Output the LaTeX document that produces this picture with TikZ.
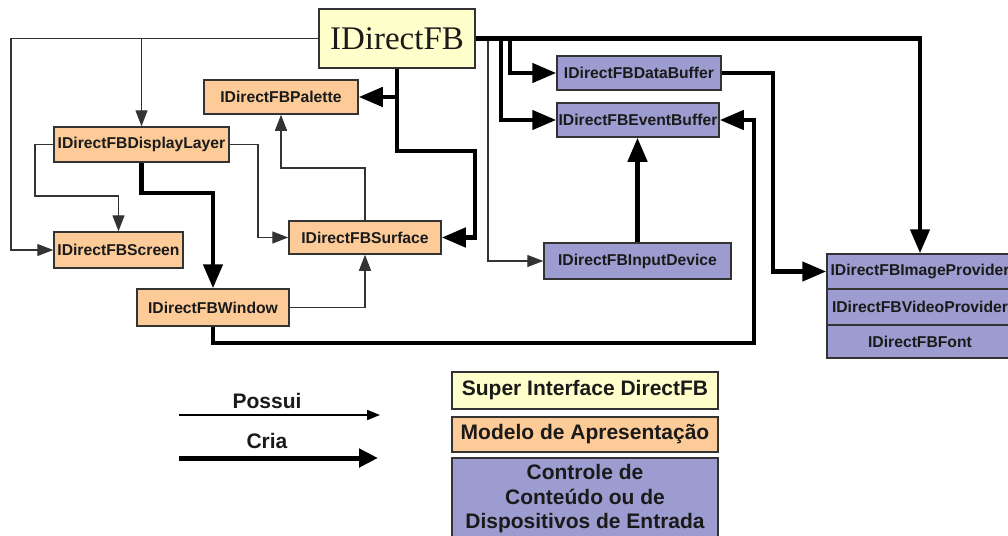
\documentclass[tikz,border=0pt]{standalone}
\usepackage{fontspec}
\setmainfont{Liberation Sans}
\newfontfamily\serifbig{Liberation Serif}
\usetikzlibrary{arrows.meta}
\definecolor{yel}{HTML}{FFFFCC}
\definecolor{ora}{HTML}{FCCB98}
\definecolor{pur}{HTML}{9C9CD0}
\definecolor{edge}{HTML}{333333}
\definecolor{txt}{HTML}{1A1A1A}
\begin{document}
\begin{tikzpicture}[x=1pt,y=-1pt,
  box/.style={draw=edge, line width=1.5pt, inner sep=0pt, text=txt,
    font=\fontsize{15.7}{18}\selectfont\bfseries},
  obox/.style={box, fill=ora},
  pbox/.style={box, fill=pur},
  legbox/.style={draw=edge, line width=1.5pt, inner sep=0pt, text=txt,
    minimum width=266pt, align=center,
    font=\fontsize{21}{24.5}\selectfont\bfseries},
  has/.style={draw=edge, line width=1.3pt, -{Triangle[length=16pt,width=12pt]}},
  mk/.style={draw=black, line width=4.5pt, -{Triangle[length=24pt,width=19pt]}},
  legtxt/.style={anchor=base, text=txt, font=\fontsize{21}{24}\selectfont\bfseries},
]
\useasboundingbox (0,0) rectangle (1008,535);
\clip (0,0) rectangle (1008,535);

% nodes
\node[box, fill=yel, minimum width=156pt, minimum height=59pt,
  font=\serifbig\fontsize{33}{36}\selectfont] (idfb) at (397,38.5) {IDirectFB};
\node[obox, minimum width=154pt, minimum height=34pt] (pal) at (281,97) {IDirectFBPalette};
\node[obox, minimum width=175pt, minimum height=35pt] (dl) at (141.5,144.5) {IDirectFBDisplayLayer};
\node[obox, minimum width=129pt, minimum height=36pt] (scr) at (118.5,250) {IDirectFBScreen};
\node[obox, minimum width=152pt, minimum height=33pt] (surf) at (365,237.5) {IDirectFBSurface};
\node[obox, minimum width=152pt, minimum height=37pt] (win) at (213,307.5) {IDirectFBWindow};
\node[pbox, minimum width=164pt, minimum height=34pt] (db) at (639,73) {IDirectFBDataBuffer};
\node[pbox, minimum width=162pt, minimum height=34pt] (eb) at (638,120) {IDirectFBEventBuffer};
\node[pbox, minimum width=187pt, minimum height=36pt] (inp) at (637.5,261) {IDirectFBInputDevice};
\node[pbox, minimum width=186pt, minimum height=35pt] (img) at (920,271.5) {IDirectFBImageProvider};
\node[pbox, minimum width=186pt, minimum height=36pt] (vid) at (920,307) {IDirectFBVideoProvider};
\node[pbox, minimum width=186pt, minimum height=33pt] (fnt) at (920,341.5) {IDirectFBFont};

% thin connectors (Possui)
\draw[has] (idfb.west) -| (dl.north);
\draw[has] (idfb.west) -- (11,38.5) |- (scr.west);
\draw[has] (dl.west) -- (35,144.5) -- (35,196) -| (scr.north);
\draw[has] (dl.east) -- (258,144.5) |- (surf.west);
\draw[has] (surf.north) -- (365,168) -| (pal.south);
\draw[has] (win.east) -| (surf.south);
\draw[has] (idfb.east) -- (488,38.5) |- (inp.west);

% thick connectors (Cria)
\draw[mk] (idfb.south) |- (pal.east);
\draw[mk] (idfb.south) -- (397,151) -- (475,151) |- (surf.east);
\draw[mk] (dl.south) -- (141.5,193) -| (win.north);
\draw[mk] (win.south) -- (213,343) -- (754,343) |- (eb.east);
\draw[mk] (inp.north) -- (inp.north |- eb.south);
\draw[mk] (idfb.east) -| (510,73) -- (db.west);
\draw[mk] (idfb.east) -| (501,120) -- (eb.west);
\draw[mk] (idfb.east) -| (img.north);
\draw[mk] (db.east) -- (773,73) |- (img.west);

% legend
\node[legtxt] (lpos) at (267,408) {Possui};
\node[legtxt] (lcri) at (267,448) {Cria};
\coordinate (a1) at (179,415);
\coordinate (a2) at (380,415);
\coordinate (b1) at (179,458);
\coordinate (b2) at (378,458);
\draw[draw=black, line width=2pt, -{Triangle[length=13pt,width=10pt]}] (a1) -- (a2);
\draw[draw=black, line width=5pt, -{Triangle[length=19pt,width=18pt]}] (b1) -- (b2);

\node[legbox, fill=yel, minimum height=37pt] (l1) at (585,390.5) {Super Interface DirectFB};
\node[legbox, fill=ora, minimum height=35pt] (l2) at (585,434.5) {Modelo de Apresentação};
\node[legbox, fill=pur, minimum height=82pt] (l3) at (585,499) {Controle de\\Conteúdo ou de\\Dispositivos de Entrada};
\end{tikzpicture}
\end{document}
